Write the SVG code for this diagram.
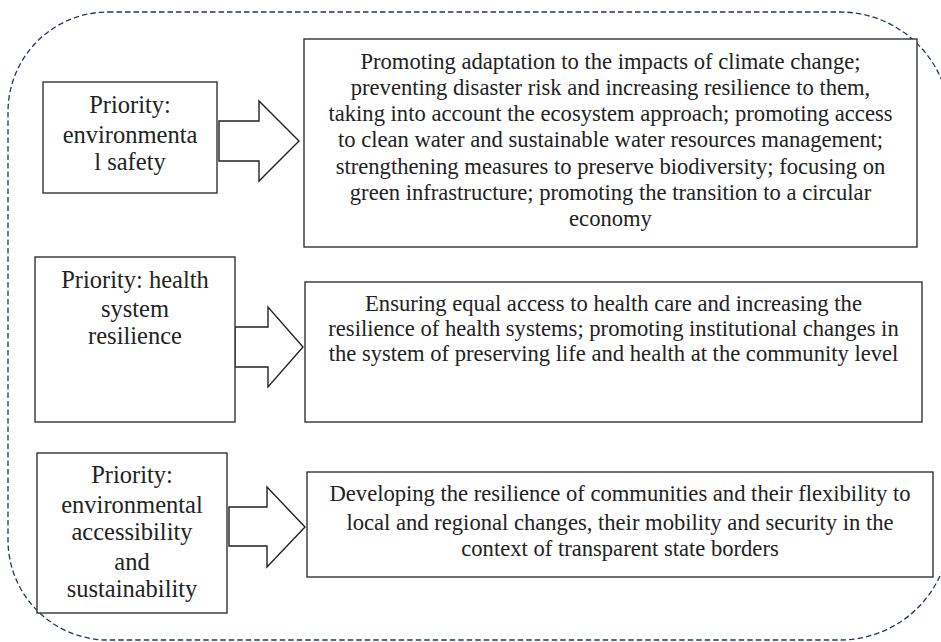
<svg xmlns="http://www.w3.org/2000/svg" width="941" height="642" viewBox="0 0 941 642">
<style>
.box{fill:#fff;stroke:#333;stroke-width:1.4}
.arr{fill:#fff;stroke:#222;stroke-width:1.4;stroke-linejoin:miter}
.frame{fill:none;stroke:#1f3864;stroke-width:1.3;stroke-dasharray:5.5 3}
text{font-family:"Liberation Serif","Times New Roman",serif;fill:#222;text-anchor:middle}
.p{font-size:24.5px}
.d{font-size:22.6px}
</style>
<rect width="941" height="642" fill="#fff"/>
<path class="frame" d="M108,12 H840 A110,110 0 0 1 950,122 V530 A110,110 0 0 1 840,640 H108 A100,100 0 0 1 8,540 V112 A100,100 0 0 1 108,12 Z"/>
<g id="connectors">
<polygon class="arr" points="219,121 259,121 259,101 299,141 259,181 259,161 219,161"/>
<polygon class="arr" points="235,327 268,327 268,307 303,347 268,387 268,367 235,367"/>
<polygon class="arr" points="229,507 267,507 267,487 305,527 267,567 267,546 229,546"/>
</g>
<g id="p1">
<rect class="box" x="43" y="82" width="174" height="111"/>
<text class="p" x="130" y="113">Priority:</text>
<text class="p" x="130" y="143">environmenta</text>
<text class="p" x="130" y="170">l safety</text>
</g>
<g id="d1">
<rect class="box" x="304" y="39" width="613" height="208"/>
<text class="d" x="610.5" y="69">Promoting adaptation to the impacts of climate change;</text>
<text class="d" x="610.5" y="95">preventing disaster risk and increasing resilience to them,</text>
<text class="d" x="610.5" y="121">taking into account the ecosystem approach; promoting access</text>
<text class="d" x="610.5" y="147">to clean water and sustainable water resources management;</text>
<text class="d" x="610.5" y="174">strengthening measures to preserve biodiversity; focusing on</text>
<text class="d" x="610.5" y="200">green infrastructure; promoting the transition to a circular</text>
<text class="d" x="610.5" y="226">economy</text>
</g>
<g id="p2">
<rect class="box" x="35" y="257" width="200" height="165"/>
<text class="p" x="135" y="288">Priority: health</text>
<text class="p" x="135" y="317">system</text>
<text class="p" x="135" y="344">resilience</text>
</g>
<g id="d2">
<rect class="box" x="305" y="282" width="617" height="140"/>
<text class="d" x="613.5" y="311">Ensuring equal access to health care and increasing the</text>
<text class="d" x="613.5" y="336">resilience of health systems; promoting institutional changes in</text>
<text class="d" x="613.5" y="361">the system of preserving life and health at the community level</text>
</g>
<g id="p3">
<rect class="box" x="37" y="453" width="190" height="160"/>
<text class="p" x="132" y="483">Priority:</text>
<text class="p" x="132" y="513">environmental</text>
<text class="p" x="132" y="540">accessibility</text>
<text class="p" x="132" y="570">and</text>
<text class="p" x="132" y="597">sustainability</text>
</g>
<g id="d3">
<rect class="box" x="307" y="472" width="626" height="105"/>
<text class="d" x="620" y="501">Developing the resilience of communities and their flexibility to</text>
<text class="d" x="620" y="530">local and regional changes, their mobility and security in the</text>
<text class="d" x="620" y="556">context of transparent state borders</text>
</g>
</svg>
